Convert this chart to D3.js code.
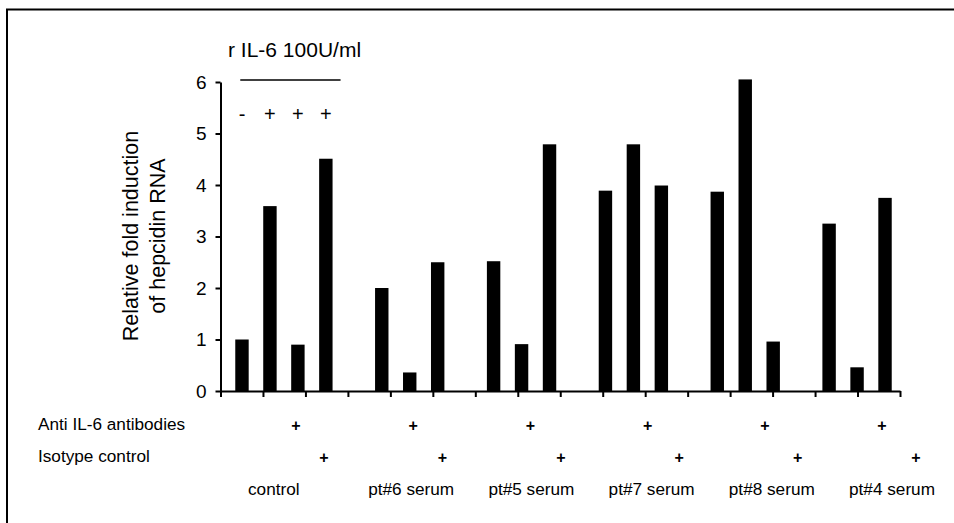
<!DOCTYPE html>
<html><head><meta charset="utf-8">
<script src="https://cdn.jsdelivr.net/npm/d3@7"></script>
<style>
html,body{margin:0;padding:0;background:#fff;}
text{font-family:"Liberation Sans",Arial,sans-serif;fill:#000;}
</style></head>
<body>
<svg id="chart" width="954" height="523"></svg>
<script>
// ---- data ----
const groups = ["control", "pt#6 serum", "pt#5 serum", "pt#7 serum", "pt#8 serum", "pt#4 serum"];
const controlValues = [1.0, 3.59, 0.9, 4.51];
const pt6Values = [2.0, 0.36, 2.5];
const pt5Values = [2.52, 0.91, 4.79];
const pt7Values = [3.89, 4.79, 3.99];
const pt8Values = [3.87, 6.05, 0.96];
const pt4Values = [3.25, 0.46, 3.75];
const groupValues = [controlValues, pt6Values, pt5Values, pt7Values, pt8Values, pt4Values];
const yTicks = [0, 1, 2, 3, 4, 5, 6];
const rIL6Signs = ["-", "+", "+", "+"];
const rIL6Label = "r IL-6 100U/ml";
const yTitle = ["Relative fold induction", "of hepcidin RNA"];
const rowLabels = ["Anti IL-6 antibodies", "Isotype control"];
const xTickCount = 16;

// ---- build bar slots (gap slot between groups) ----
const slots = [];
const bars = [];
groupValues.forEach((vals, gi) => {
  if (gi > 0) slots.push("gap" + gi);
  vals.forEach((v, bi) => {
    const key = "g" + gi + "b" + bi;
    slots.push(key);
    bars.push({key, value: v, group: gi, idx: bi});
  });
});

const svg = d3.select("#chart");

// frame (top and left edges)
svg.append("path").attr("d", "M7,523V9.5H954").attr("fill", "none").attr("stroke", "#000").attr("stroke-width", 2);

const y = d3.scaleLinear().domain([0, 6]).range([391, 82]);
const xBand = d3.scaleBand().domain(slots).range([228, 899]).paddingInner(0.52).paddingOuter(0.26);
const xTick = d3.scaleLinear().domain([0, xTickCount]).range([220.5, 900]);

// bars
svg.append("g").selectAll("rect").data(bars).join("rect")
  .attr("x", d => xBand(d.key))
  .attr("width", xBand.bandwidth())
  .attr("y", d => y(d.value))
  .attr("height", d => y(0) - y(d.value))
  .attr("fill", "#000");

// x axis
const xAxis = svg.append("g").attr("transform", `translate(0,${y(0)})`)
  .call(d3.axisBottom(xTick).tickValues(d3.range(0, xTickCount + 1)).tickSize(6).tickSizeOuter(0).tickFormat(""));
xAxis.selectAll("path,line").attr("stroke", "#000").attr("stroke-width", 2);

// y axis
const yAxis = svg.append("g").attr("transform", `translate(220.5,0)`)
  .call(d3.axisLeft(y).tickValues(yTicks).tickSize(5).tickSizeOuter(0).tickPadding(9).tickFormat(d3.format("d")));
yAxis.selectAll("path,line").attr("stroke", "#000").attr("stroke-width", 2);
yAxis.selectAll("text").attr("font-size", 19).attr("font-family", '"Liberation Sans",Arial,sans-serif').attr("fill", "#000");

// y title
const yt = svg.append("text").attr("transform", "translate(144,236) rotate(-90)").attr("text-anchor", "middle").attr("font-size", 21.5);
yt.selectAll("tspan").data(yTitle).join("tspan")
  .attr("x", 0).attr("dy", (d, i) => i === 0 ? -6 : 27).text(d => d);

// r IL-6 annotation
svg.append("text").attr("x", 228).attr("y", 57).attr("font-size", 21).text(rIL6Label);
svg.append("line").attr("x1", xBand("g0b0") + 5).attr("x2", xBand("g0b3") + xBand.bandwidth() + 8)
  .attr("y1", 80).attr("y2", 80).attr("stroke", "#000").attr("stroke-width", 1.5);
svg.append("g").selectAll("text").data(rIL6Signs).join("text")
  .attr("x", (d, i) => xBand("g0b" + i) + xBand.bandwidth() / 2)
  .attr("y", 121).attr("text-anchor", "middle").attr("font-size", 20)
  .text(d => d);

// table below axis
svg.append("g").selectAll("text").data(rowLabels).join("text")
  .attr("x", 38).attr("y", (d, i) => i === 0 ? 430 : 462)
  .attr("font-size", 17.2).text(d => d);

const antiX = d3.scaleLinear().domain([0, groups.length - 1]).range([296, 882]);
const isoX = d3.scaleLinear().domain([0, groups.length - 1]).range([324, 916]);
const labelX = d3.scaleLinear().domain([0, groups.length - 1]).range([248, 849]);

svg.append("g").selectAll("text").data(groups).join("text")
  .attr("x", (d, i) => antiX(i)).attr("y", 431).attr("text-anchor", "middle")
  .attr("font-size", 16).attr("font-weight", "bold").text("+");
svg.append("g").selectAll("text").data(groups).join("text")
  .attr("x", (d, i) => isoX(i)).attr("y", 462.5).attr("text-anchor", "middle")
  .attr("font-size", 16).attr("font-weight", "bold").text("+");
svg.append("g").selectAll("text").data(groups).join("text")
  .attr("x", (d, i) => labelX(i)).attr("y", 495)
  .attr("font-size", 17.2).text(d => d);
</script>
</body></html>
